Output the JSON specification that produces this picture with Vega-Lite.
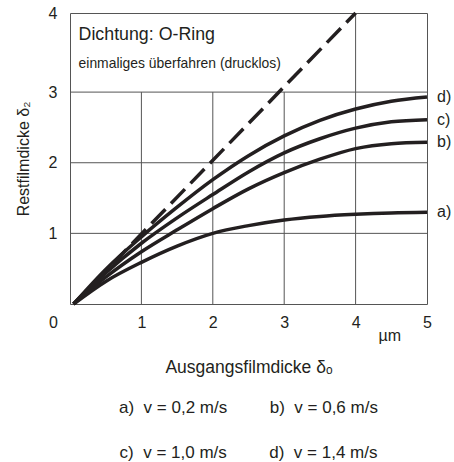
{
  "$schema": "https://vega.github.io/schema/vega-lite/v6.json",
  "width": 357,
  "height": 291,
  "autosize": {"type": "none"},
  "padding": {"left": 70, "top": 13, "right": 27, "bottom": 158},
  "background": "white",
  "config": {
    "view": {"stroke": "#555", "strokeWidth": 1},
    "font": "Liberation Sans",
    "axis": {"labelColor": "#231f20", "titleColor": "#231f20", "titleFontWeight": "normal", "labelFont": "Liberation Sans", "titleFont": "Liberation Sans"}
  },
  "title": {
    "text": ["a)\u00a0\u00a0v = 0,2 m/s\u00a0\u00a0\u00a0\u00a0\u00a0\u00a0\u00a0\u00a0\u00a0b)\u00a0\u00a0v = 0,6 m/s", "c)\u00a0\u00a0v = 1,0 m/s\u00a0\u00a0\u00a0\u00a0\u00a0\u00a0\u00a0\u00a0\u00a0d)\u00a0\u00a0v = 1,4 m/s"],
    "orient": "bottom",
    "anchor": "middle",
    "offset": 24,
    "lineHeight": 45,
    "fontSize": 17,
    "fontWeight": "normal",
    "font": "Liberation Sans",
    "color": "#231f20"
  },
  "datasets": {
    "curves": [
      {"x": 0.05, "y": 0, "s": "a)"}, {"x": 0.5, "y": 0.32, "s": "a)"}, {"x": 1, "y": 0.59, "s": "a)"}, {"x": 1.5, "y": 0.82, "s": "a)"}, {"x": 2, "y": 1.0, "s": "a)"}, {"x": 2.5, "y": 1.11, "s": "a)"}, {"x": 3, "y": 1.19, "s": "a)"}, {"x": 3.5, "y": 1.24, "s": "a)"}, {"x": 4, "y": 1.27, "s": "a)"}, {"x": 4.5, "y": 1.29, "s": "a)"}, {"x": 5, "y": 1.30, "s": "a)"},
      {"x": 0.05, "y": 0, "s": "b)"}, {"x": 0.5, "y": 0.38, "s": "b)"}, {"x": 1, "y": 0.74, "s": "b)"}, {"x": 1.5, "y": 1.05, "s": "b)"}, {"x": 2, "y": 1.35, "s": "b)"}, {"x": 2.5, "y": 1.63, "s": "b)"}, {"x": 3, "y": 1.86, "s": "b)"}, {"x": 3.5, "y": 2.05, "s": "b)"}, {"x": 4, "y": 2.20, "s": "b)"}, {"x": 4.5, "y": 2.27, "s": "b)"}, {"x": 5, "y": 2.29, "s": "b)"},
      {"x": 0.05, "y": 0, "s": "c)"}, {"x": 0.5, "y": 0.44, "s": "c)"}, {"x": 1, "y": 0.86, "s": "c)"}, {"x": 1.5, "y": 1.22, "s": "c)"}, {"x": 2, "y": 1.55, "s": "c)"}, {"x": 2.5, "y": 1.87, "s": "c)"}, {"x": 3, "y": 2.14, "s": "c)"}, {"x": 3.5, "y": 2.34, "s": "c)"}, {"x": 4, "y": 2.49, "s": "c)"}, {"x": 4.5, "y": 2.58, "s": "c)"}, {"x": 5, "y": 2.61, "s": "c)"},
      {"x": 0.05, "y": 0, "s": "d)"}, {"x": 0.5, "y": 0.49, "s": "d)"}, {"x": 1, "y": 0.95, "s": "d)"}, {"x": 1.5, "y": 1.37, "s": "d)"}, {"x": 2, "y": 1.76, "s": "d)"}, {"x": 2.5, "y": 2.10, "s": "d)"}, {"x": 3, "y": 2.38, "s": "d)"}, {"x": 3.5, "y": 2.60, "s": "d)"}, {"x": 4, "y": 2.76, "s": "d)"}, {"x": 4.5, "y": 2.87, "s": "d)"}, {"x": 5, "y": 2.93, "s": "d)"}
    ],
    "reference": [{"x": 0.05, "y": 0}, {"x": 4, "y": 4.12}],
    "hgrid": [{"y": 1}, {"y": 2}, {"y": 3}],
    "vgrid": [{"x": 1, "bottom": 0, "top": 3}, {"x": 2, "bottom": 0, "top": 3}, {"x": 3, "bottom": 0, "top": 3}, {"x": 4, "bottom": 0, "top": 4.12}]
  },
  "layer": [
    {
      "data": {"name": "hgrid"},
      "mark": {"type": "rule", "color": "#555", "strokeWidth": 1},
      "encoding": {
        "y": {"field": "y", "type": "quantitative", "scale": {"domain": [0, 4.12], "nice": false, "zero": false},
          "axis": {"values": [1, 2, 3, 4.12], "labelExpr": "datum.value > 4 ? '4' : format(datum.value, 'd')", "grid": false, "ticks": false, "tickSize": 0, "domain": false, "labelFlush": false, "labelFontSize": 16, "labelPadding": 13, "title": "Restfilmdicke δ₂", "titleFontSize": 16, "titlePadding": 17}
        }
      }
    },
    {
      "data": {"name": "vgrid"},
      "mark": {"type": "rule", "color": "#555", "strokeWidth": 1},
      "encoding": {
        "x": {"field": "x", "type": "quantitative", "scale": {"domain": [0, 5], "nice": false, "zero": false},
          "axis": {"values": [0, 1, 2, 3, 4, 5], "format": "d", "grid": false, "ticks": false, "tickSize": 0, "domain": false, "labelFlush": false, "labelFontSize": 16, "labelPadding": 10, "labelOffset": {"condition": {"test": "datum.value === 0", "value": -17}, "value": 0}, "title": "Ausgangsfilmdicke δₒ", "titleFontSize": 17.5, "titlePadding": 28}
        },
        "y": {"field": "bottom", "type": "quantitative"},
        "y2": {"field": "top"}
      }
    },
    {
      "data": {"name": "reference"},
      "mark": {"type": "line", "color": "#231f20", "strokeWidth": 3.5, "strokeDash": [20, 8]},
      "encoding": {"x": {"field": "x", "type": "quantitative"}, "y": {"field": "y", "type": "quantitative"}}
    },
    {
      "data": {"name": "curves"},
      "mark": {"type": "line", "color": "#231f20", "strokeWidth": 3.5, "interpolate": "monotone"},
      "encoding": {"x": {"field": "x", "type": "quantitative"}, "y": {"field": "y", "type": "quantitative"}, "detail": {"field": "s", "type": "nominal"}}
    },
    {
      "data": {"name": "curves"},
      "transform": [{"filter": "datum.x === 5"}],
      "mark": {"type": "text", "align": "left", "baseline": "middle", "dx": 10, "fontSize": 16, "color": "#231f20"},
      "encoding": {"x": {"field": "x", "type": "quantitative"}, "y": {"field": "y", "type": "quantitative"}, "text": {"field": "s", "type": "nominal"}}
    },
    {
      "data": {"values": [{"t": "Dichtung: O-Ring", "x": 0.12, "y": 3.81, "size": 17.8}, {"t": "einmaliges überfahren (drucklos)", "x": 0.12, "y": 3.40, "size": 13.9}]},
      "mark": {"type": "text", "align": "left", "baseline": "middle", "color": "#231f20"},
      "encoding": {"x": {"field": "x", "type": "quantitative"}, "y": {"field": "y", "type": "quantitative"}, "text": {"field": "t", "type": "nominal"}, "size": {"field": "size", "type": "quantitative", "scale": null}}
    },
    {
      "data": {"values": [{"t": "µm", "x": 4.48, "y": -0.46}]},
      "mark": {"type": "text", "align": "center", "baseline": "middle", "fontSize": 16, "color": "#231f20"},
      "encoding": {"x": {"field": "x", "type": "quantitative"}, "y": {"field": "y", "type": "quantitative"}, "text": {"field": "t", "type": "nominal"}}
    }
  ]
}
